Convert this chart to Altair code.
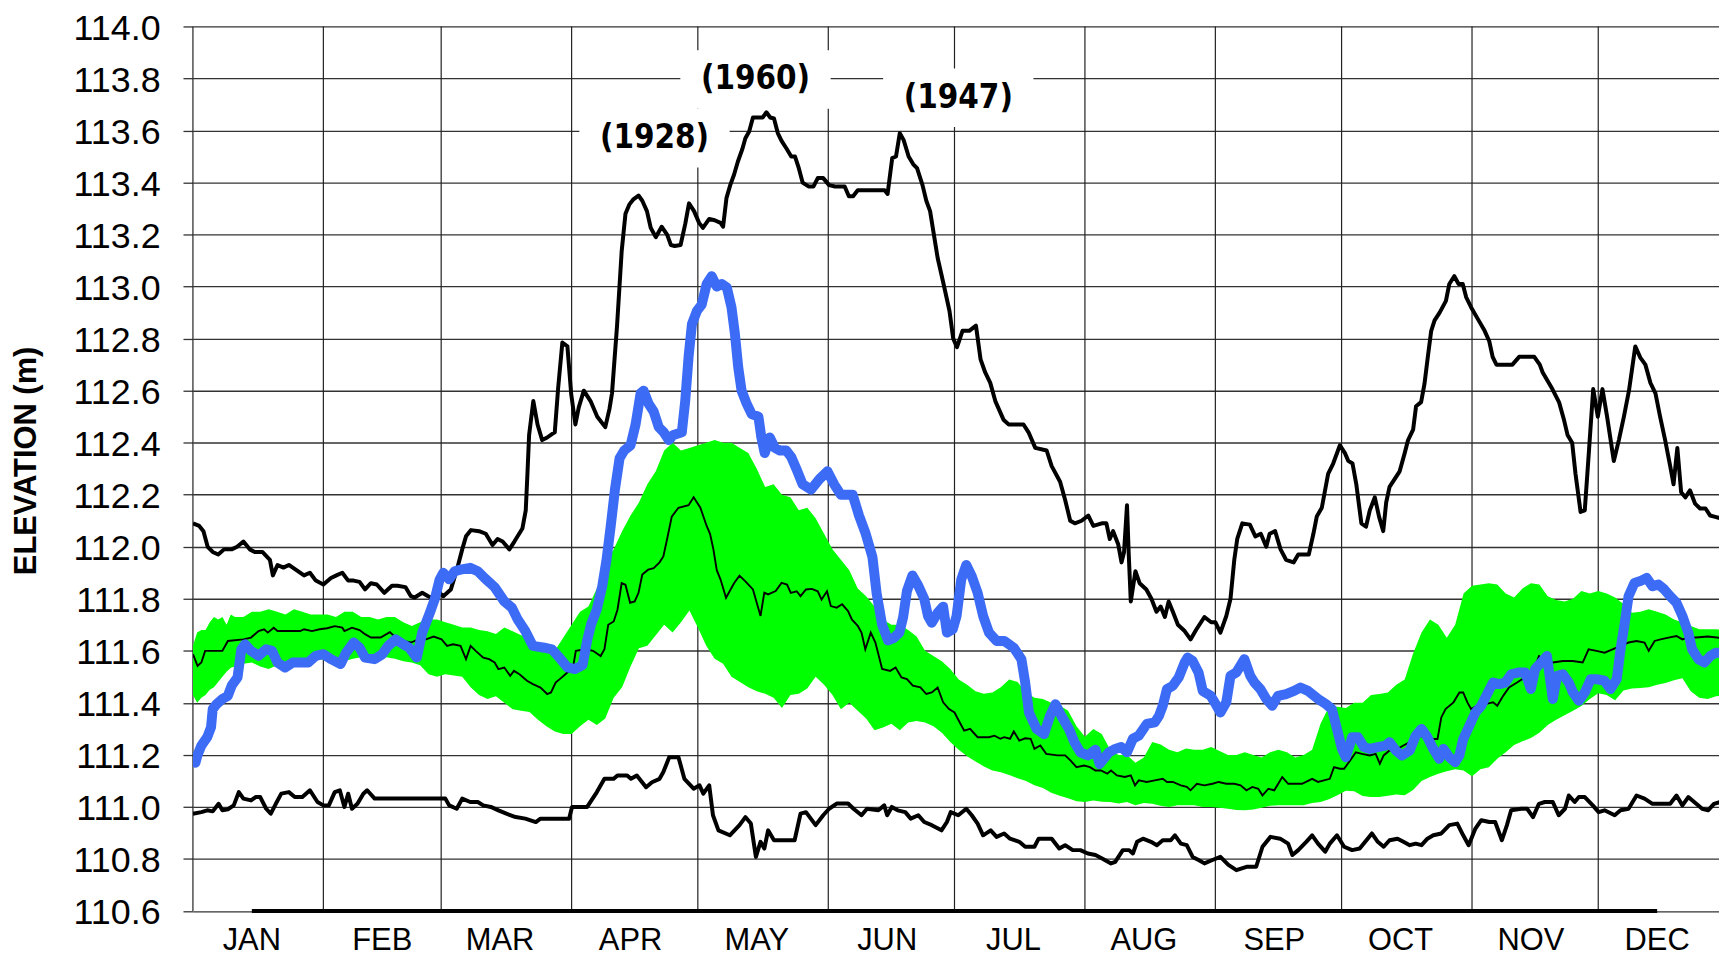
import altair as alt
import pandas as pd

# ---------------- data (day of year, elevation m) ----------------
MAX_LINE = [(0,112.09),(1.5,112.08),(2.5,112.06),(3.5,112.0),(4.7,111.98),(6,111.97),(7.4,111.99),(9.2,111.99),(10.5,112.0),(12,112.02),(13.5,111.99),(14.7,111.98),(16.5,111.98),(18.3,111.95),(19,111.89),(20.1,111.93),(21.5,111.92),(22.8,111.93),(24.6,111.91),(26.4,111.89),(27.8,111.9),(29.2,111.87),(31,111.855),(32.8,111.88),(34.1,111.89),(35.5,111.9),(36.9,111.87),(38.2,111.87),(39.6,111.865),(40.9,111.836),(42.3,111.86),(43.7,111.855),(45.5,111.823),(47.3,111.85),(48.6,111.85),(50.5,111.845),(51.8,111.81),(52.7,111.805),(54.5,111.823),(55.9,111.81),(57.2,111.8),(58.6,111.823),(59.5,111.81),(61.3,111.836),(62.7,111.91),(64,111.99),(64.9,112.04),(66.1,112.064),(68,112.06),(69.6,112.05),(71.2,112.007),(72.4,112.03),(73.6,112.02),(75.2,111.99),(76.4,112.02),(78.3,112.07),(79.1,112.14),(79.5,112.28),(79.9,112.43),(80.9,112.56),(81.9,112.47),(83,112.41),(84.2,112.42),(85.4,112.434),(86,112.44),(86.8,112.61),(87.8,112.785),(89,112.77),(89.9,112.587),(90.9,112.47),(91.7,112.536),(92.9,112.6),(94.5,112.56),(96.1,112.5),(98,112.46),(99,112.53),(99.6,112.59),(100.8,112.85),(101.9,113.136),(102.8,113.28),(103.7,113.315),(104.6,113.334),(105.9,113.35),(106.8,113.33),(107.9,113.29),(108.8,113.226),(110,113.19),(111.4,113.23),(112.7,113.2),(113.6,113.16),(114.5,113.156),(115.9,113.16),(117,113.24),(117.9,113.32),(119.1,113.29),(120.3,113.245),(121.2,113.226),(122.7,113.26),(124,113.255),(125.4,113.245),(126,113.23),(126.8,113.34),(127.7,113.39),(128.6,113.43),(129.5,113.48),(130.6,113.53),(131.3,113.57),(132.2,113.596),(133.1,113.65),(135.4,113.65),(136.3,113.67),(137.2,113.65),(138.1,113.646),(139,113.59),(139.9,113.56),(141.1,113.53),(142.2,113.5),(143.1,113.5),(144,113.455),(144.9,113.4),(146.3,113.385),(147.5,113.385),(148.5,113.417),(149.8,113.417),(151.2,113.39),(152.6,113.385),(154.9,113.385),(155.9,113.347),(156.9,113.347),(158,113.37),(164.4,113.37),(165.1,113.356),(166.2,113.494),(167.1,113.5),(168,113.59),(168.9,113.564),(170.1,113.5),(171.2,113.47),(172.1,113.455),(173.4,113.39),(174.3,113.33),(175.2,113.29),(176.1,113.2),(177,113.11),(178.4,113.01),(179.8,112.907),(180.7,112.8),(181.6,112.767),(182.9,112.83),(184.5,112.83),(186.1,112.85),(187.2,112.72),(188.3,112.67),(189.5,112.63),(190.7,112.56),(192.7,112.487),(193.9,112.47),(195.6,112.47),(197.4,112.47),(198.6,112.44),(200.2,112.38),(202.9,112.37),(204.1,112.31),(206.1,112.25),(207.3,112.18),(208.5,112.1),(209.6,112.09),(211.2,112.1),(212.8,112.12),(214,112.08),(216,112.09),(217.1,112.09),(217.9,112.03),(218.7,112.06),(219.9,112.01),(220.7,111.94),(221.3,111.98),(222,112.16),(222.4,111.976),(222.9,111.79),(224,111.906),(225,111.86),(226.6,111.836),(227.8,111.8),(229,111.75),(230,111.77),(231,111.73),(231.9,111.79),(232.9,111.75),(234.1,111.7),(235.7,111.676),(237.1,111.644),(238.4,111.68),(240.4,111.73),(242,111.71),(243,111.71),(244.2,111.67),(245.6,111.734),(246.6,111.8),(247.5,111.95),(248.2,112.03),(249.4,112.09),(251.2,112.085),(252.5,112.04),(253.8,112.05),(255.1,112.0),(255.9,112.05),(257.2,112.06),(258.5,111.99),(259.8,111.95),(261.6,111.94),(262.7,111.97),(265.2,111.97),(266.3,112.05),(267.1,112.116),(268.3,112.15),(269.8,112.28),(271,112.32),(272.6,112.39),(273.8,112.36),(274.6,112.33),(275.6,112.32),(276.5,112.24),(277.7,112.09),(278.8,112.077),(279.7,112.14),(280.9,112.19),(281.9,112.116),(282.9,112.06),(283.6,112.17),(284.4,112.23),(285.6,112.26),(286.8,112.29),(288,112.36),(288.8,112.41),(290,112.45),(290.7,112.54),(291.9,112.556),(292.7,112.626),(293.5,112.73),(294.3,112.83),(295.1,112.87),(296.3,112.9),(297.8,112.945),(298.6,113.01),(299.8,113.04),(300.8,113.01),(301.8,113.01),(302.6,112.96),(303.8,112.92),(305.4,112.875),(307,112.83),(308.1,112.79),(308.9,112.73),(309.8,112.7),(313.6,112.7),(315.2,112.73),(318.8,112.73),(320.1,112.7),(320.8,112.67),(323.1,112.606),(324.7,112.555),(325.9,112.485),(326.7,112.43),(327.8,112.4),(328.6,112.28),(329.8,112.134),(330.8,112.14),(331.8,112.37),(332.8,112.606),(333.9,112.5),(335,112.606),(336.1,112.5),(337.7,112.33),(338.9,112.41),(340.1,112.5),(341.3,112.6),(342.8,112.77),(344,112.727),(345.2,112.7),(346.4,112.63),(347.6,112.59),(348.7,112.5),(349.9,112.41),(351.1,112.31),(351.9,112.24),(352.8,112.38),(353.7,112.21),(354.7,112.19),(355.8,112.217),(357,112.166),(358.2,112.147),(359.5,112.147),(360.6,112.12),(361.8,112.115),(363,112.11)]

MIN_LINE = [(0,110.974),(2,110.98),(3.4,110.987),(4.7,110.983),(6.1,111.012),(7,110.987),(8.3,110.991),(9.7,111.006),(10.9,111.057),(12,111.032),(13.8,111.025),(14.9,111.038),(16,111.038),(17.4,110.993),(18.5,110.974),(19.7,111.012),(21,111.051),(22.8,111.057),(24.2,111.038),(26,111.038),(27.8,111.064),(29.6,111.019),(31,111.006),(32.3,111.006),(33.7,111.057),(34.9,111.064),(36,111.0),(36.9,111.051),(37.8,110.993),(39.1,111.012),(40.5,111.051),(41.4,111.064),(43.2,111.032),(60,111.032),(60.9,111.006),(62.7,110.993),(64,111.032),(65.9,111.019),(67.7,111.019),(69,111.006),(70.8,111.0),(72.6,110.987),(74.5,110.974),(76.7,110.961),(79,110.955),(81.5,110.942),(82.6,110.955),(89.4,110.955),(90.1,111.0),(93.7,111.0),(96,111.057),(97.8,111.108),(100,111.108),(100.9,111.121),(103.2,111.121),(104.1,111.108),(105.5,111.121),(107.7,111.076),(109.1,111.095),(110.9,111.108),(111.8,111.134),(113.2,111.191),(115.4,111.191),(116.8,111.108),(119,111.07),(120.4,111.083),(121.3,111.051),(122.7,111.083),(123.6,110.968),(124.9,110.91),(127.6,110.891),(129.9,110.93),(131.3,110.961),(132.6,110.936),(133.8,110.808),(134.9,110.866),(135.8,110.84),(136.7,110.91),(138.1,110.872),(143,110.872),(144.4,110.974),(145.7,110.98),(148,110.93),(149.8,110.968),(151.2,110.993),(153,111.013),(155.7,111.013),(157,110.993),(158.9,110.968),(160.2,110.993),(162.9,110.987),(164.3,111.006),(165,110.968),(166.1,111.0),(167.5,110.987),(169.3,110.98),(170.6,110.955),(172.4,110.968),(173.8,110.942),(175.6,110.93),(177.9,110.91),(179.2,110.942),(180.1,110.98),(181.9,110.968),(183.8,110.993),(185.1,110.968),(186.5,110.936),(187.8,110.891),(189.6,110.91),(191,110.885),(192.8,110.898),(194.2,110.878),(196.4,110.866),(197.8,110.847),(200,110.847),(201,110.878),(202.8,110.878),(204.1,110.878),(205.9,110.84),(207.3,110.853),(209.1,110.834),(210.9,110.834),(212.7,110.821),(214.5,110.815),(216.3,110.8),(218.2,110.783),(219.2,110.789),(221,110.834),(222.5,110.834),(223.4,110.821),(224.4,110.866),(225.8,110.878),(227.7,110.866),(229.1,110.853),(230.5,110.872),(232.4,110.872),(233.4,110.891),(234.8,110.859),(236.2,110.853),(237.6,110.808),(239,110.796),(240.4,110.783),(242.3,110.796),(244.2,110.808),(246.1,110.777),(248,110.757),(250.4,110.77),(252.7,110.77),(254.2,110.847),(256.1,110.885),(258.4,110.878),(260.3,110.859),(261.3,110.815),(262.7,110.834),(264.6,110.866),(266,110.891),(267.4,110.859),(269.1,110.828),(270.2,110.859),(271.9,110.891),(273.6,110.847),(275.5,110.834),(277.3,110.84),(279.2,110.878),(280.2,110.898),(281.6,110.866),(283,110.847),(284.4,110.872),(286.3,110.878),(287.7,110.866),(289.2,110.853),(290.6,110.859),(292,110.853),(293.4,110.878),(294.8,110.891),(296.7,110.898),(298.6,110.93),(300.5,110.936),(301.9,110.891),(303.2,110.853),(304.8,110.917),(306.2,110.949),(308.1,110.942),(309.5,110.942),(311.1,110.872),(312.3,110.93),(313.3,110.987),(315.7,110.993),(317.1,110.993),(318.5,110.961),(319.9,111.012),(321.3,111.019),(323.2,111.019),(324.6,110.968),(326.1,110.993),(327,111.044),(328.4,111.019),(329.4,111.038),(330.8,111.038),(332.7,111.006),(334.1,110.98),(335.5,110.987),(337.9,110.968),(339.3,110.987),(341.2,110.993),(343.1,111.044),(345,111.032),(346.9,111.012),(349.7,111.012),(351.1,111.012),(352.6,111.044),(354,111.006),(355.4,111.038),(357.3,111.012),(358.7,110.993),(360.1,110.987),(361.5,111.012),(363,111.019)]

MEDIAN_LINE = [(0,111.587),(1.1,111.542),(2,111.555),(2.9,111.6),(4.7,111.6),(7,111.6),(8.3,111.638),(12,111.644),(13.8,111.651),(15.6,111.676),(16.9,111.683),(17.8,111.67),(19.2,111.689),(20.1,111.676),(22.8,111.676),(25.5,111.676),(26.4,111.683),(28.3,111.676),(30.1,111.683),(31.9,111.687),(33.7,111.695),(35.5,111.689),(36,111.676),(37.8,111.689),(39.6,111.68),(40.9,111.664),(42.3,111.651),(44.6,111.651),(46.8,111.672),(48.2,111.651),(50,111.638),(51.8,111.632),(53.6,111.644),(55.4,111.644),(57.2,111.655),(59.1,111.644),(60.4,111.619),(61.8,111.625),(63.6,111.619),(64.9,111.568),(66,111.619),(67.2,111.6),(69,111.574),(70.4,111.568),(71.7,111.555),(72.6,111.53),(74,111.536),(75.4,111.504),(76.3,111.523),(77.6,111.51),(79.4,111.485),(80.8,111.472),(82.6,111.459),(84.2,111.434),(85.1,111.44),(86.2,111.478),(87.6,111.497),(89,111.517),(90.2,111.523),(91,111.6),(93.3,111.606),(95.1,111.6),(96.9,111.58),(97.8,111.606),(98.7,111.7),(100,111.713),(100.9,111.758),(101.9,111.86),(102.8,111.854),(103.9,111.785),(105,111.79),(105.9,111.823),(106.8,111.893),(108.2,111.912),(109.5,111.918),(110.9,111.94),(111.8,111.963),(112.7,112.03),(113.8,112.116),(115.4,112.15),(117.8,112.16),(119,112.19),(120.6,112.15),(122.1,112.08),(122.9,112.05),(123.7,111.99),(124.5,111.91),(125.4,111.874),(126.7,111.804),(128.6,111.86),(129.9,111.889),(131.3,111.867),(133.1,111.836),(134.9,111.734),(135.8,111.824),(136.7,111.817),(138.5,111.83),(139.9,111.861),(141.2,111.855),(142.1,111.823),(143.5,111.829),(144.4,111.81),(145.7,111.836),(147.1,111.838),(148.5,111.829),(149.4,111.797),(150.7,111.829),(151.6,111.772),(153,111.766),(154.3,111.779),(155.7,111.753),(156.6,111.721),(158,111.696),(158.9,111.67),(159.8,111.606),(161.1,111.67),(162.2,111.632),(163.8,111.53),(165.7,111.523),(167,111.536),(168.4,111.498),(169.7,111.491),(171.1,111.466),(172.9,111.46),(174.3,111.434),(175.6,111.44),(177,111.459),(178.3,111.402),(179.7,111.376),(181,111.363),(182,111.332),(183.3,111.293),(184.7,111.3),(186.5,111.268),(189.2,111.268),(190.5,111.274),(191.9,111.262),(192.8,111.268),(194.2,111.262),(195.1,111.29),(196.4,111.255),(197.8,111.264),(199.1,111.262),(200,111.223),(201.4,111.236),(202.8,111.204),(205.5,111.198),(207.3,111.198),(208.6,111.178),(210,111.153),(211.8,111.159),(213.2,111.153),(214.5,111.14),(215.8,111.14),(217.3,111.128),(218.2,111.14),(219.6,111.121),(221.5,111.115),(222.9,111.121),(223.9,111.083),(224.8,111.102),(226.7,111.096),(228.6,111.102),(230.5,111.108),(231.5,111.096),(232.9,111.096),(234.8,111.083),(236.2,111.077),(237.1,111.064),(238.6,111.089),(240.4,111.083),(242.3,111.089),(243.8,111.096),(245.6,111.089),(247.5,111.089),(249,111.083),(250.4,111.064),(251.8,111.077),(253.2,111.07),(254.2,111.044),(255.6,111.07),(257,111.064),(258.9,111.115),(260.3,111.089),(261.7,111.089),(263.6,111.089),(266,111.108),(267.4,111.096),(268.8,111.102),(270.2,111.108),(271.2,111.153),(272.6,111.147),(273.6,111.147),(275,111.178),(276.4,111.21),(277.8,111.204),(279.7,111.198),(281.1,111.204),(282.1,111.166),(283,111.198),(284.4,111.217),(286.3,111.223),(287.7,111.236),(289.2,111.249),(291.1,111.274),(292.9,111.268),(294.8,111.261),(295.8,111.261),(296.7,111.344),(297.7,111.376),(299.6,111.402),(301,111.44),(301.9,111.44),(302.9,111.402),(303.8,111.376),(305.2,111.389),(307.1,111.395),(309,111.402),(310,111.389),(311.4,111.427),(312.8,111.459),(314.7,111.478),(316.6,111.498),(318.5,111.517),(319.9,111.58),(321.3,111.568),(323.2,111.555),(325.6,111.561),(327.9,111.561),(330.3,111.555),(331.7,111.606),(333.6,111.6),(335.5,111.593),(337.4,111.606),(339.3,111.619),(341.2,111.632),(343.1,111.638),(345,111.632),(346,111.6),(347.4,111.638),(348.8,111.644),(350.7,111.651),(352.6,111.657),(354,111.644),(355.4,111.651),(357.3,111.651),(360,111.655),(363,111.65)]

# (day, upper edge, lower edge) of the green range
BAND = [(0,111.62,111.43),(1,111.67,111.40),(2,111.68,111.42),(3,111.68,111.43),(4,111.71,111.45),(5,111.73,111.46),(6,111.72,111.48),(7,111.73,111.50),(8,111.70,111.52),(9,111.74,111.535),(10,111.73,111.54),(12,111.73,111.55),(14,111.75,111.555),(16,111.75,111.54),(18,111.76,111.53),(20,111.75,111.545),(22,111.74,111.55),(24,111.76,111.56),(26,111.75,111.565),(28,111.74,111.57),(30,111.74,111.57),(32,111.74,111.56),(34,111.73,111.565),(36,111.75,111.56),(38,111.75,111.57),(40,111.73,111.575),(42,111.73,111.565),(44,111.72,111.565),(46,111.73,111.575),(48,111.73,111.57),(50,111.71,111.56),(52,111.695,111.555),(54,111.71,111.545),(56,111.72,111.51),(58,111.72,111.50),(60,111.71,111.51),(62,111.70,111.505),(64,111.69,111.50),(66,111.69,111.46),(68,111.68,111.43),(70,111.675,111.415),(72,111.665,111.425),(74,111.69,111.40),(76,111.675,111.375),(78,111.66,111.37),(80,111.65,111.365),(82,111.625,111.335),(84,111.60,111.31),(86,111.60,111.29),(88,111.65,111.28),(90,111.70,111.28),(92,111.75,111.31),(94,111.77,111.335),(96,111.84,111.315),(98,111.94,111.34),(100,111.99,111.42),(102,112.06,111.46),(104,112.12,111.54),(106,112.17,111.61),(108,112.24,111.62),(110,112.29,111.66),(112,112.37,111.70),(114,112.40,111.67),(116,112.37,111.71),(118,112.38,111.755),(120,112.39,111.69),(122,112.40,111.62),(124,112.41,111.57),(126,112.40,111.55),(128,112.40,111.50),(130,112.38,111.48),(132,112.36,111.46),(134,112.30,111.445),(136,112.23,111.435),(138,112.24,111.42),(140,112.20,111.38),(142,112.19,111.43),(144,112.14,111.435),(146,112.15,111.455),(148,112.11,111.50),(150,112.05,111.47),(152,111.99,111.43),(154,111.95,111.375),(156,111.91,111.40),(158,111.84,111.37),(160,111.81,111.34),(162,111.77,111.295),(164,111.72,111.305),(166,111.70,111.32),(168,111.70,111.295),(170,111.68,111.325),(172,111.655,111.33),(174,111.60,111.325),(176,111.58,111.31),(178,111.56,111.285),(180,111.53,111.25),(182,111.49,111.22),(184,111.47,111.195),(186,111.445,111.175),(188,111.435,111.155),(190,111.44,111.14),(192,111.46,111.133),(194,111.49,111.123),(196,111.48,111.11),(198,111.44,111.10),(200,111.42,111.083),(202,111.415,111.073),(204,111.40,111.055),(206,111.39,111.043),(208,111.37,111.033),(210,111.31,111.022),(212,111.27,111.019),(214,111.30,111.025),(216,111.28,111.02),(218,111.22,111.019),(220,111.20,111.013),(222,111.20,111.019),(224,111.17,111.006),(226,111.19,111.015),(228,111.25,111.012),(230,111.24,111.005),(232,111.22,111.0),(234,111.21,111.006),(236,111.225,111.006),(238,111.22,111.006),(240,111.22,111.0),(242,111.23,111.0),(244,111.215,110.997),(246,111.20,110.993),(248,111.20,110.988),(250,111.21,110.987),(252,111.20,110.99),(254,111.19,110.997),(256,111.21,111.005),(258,111.22,111.006),(260,111.21,111.006),(262,111.19,111.006),(264,111.20,111.006),(266,111.22,111.015),(268,111.32,111.019),(270,111.385,111.03),(272,111.385,111.045),(274,111.38,111.062),(276,111.40,111.06),(278,111.40,111.042),(280,111.43,111.038),(282,111.434,111.038),(284,111.44,111.043),(286,111.47,111.048),(288,111.49,111.045),(290,111.59,111.065),(292,111.67,111.10),(294,111.72,111.115),(296,111.70,111.128),(298,111.65,111.137),(300,111.70,111.145),(302,111.82,111.14),(304,111.85,111.118),(306,111.855,111.145),(308,111.86,111.153),(310,111.855,111.185),(312,111.82,111.21),(314,111.805,111.238),(316,111.84,111.252),(318,111.86,111.265),(320,111.855,111.285),(322,111.81,111.315),(324,111.795,111.335),(326,111.79,111.352),(328,111.80,111.37),(330,111.83,111.388),(332,111.82,111.415),(334,111.83,111.437),(336,111.82,111.43),(338,111.805,111.41),(340,111.78,111.448),(342,111.746,111.455),(344,111.75,111.457),(346,111.76,111.46),(348,111.75,111.47),(350,111.74,111.476),(352,111.72,111.487),(354,111.71,111.495),(356,111.695,111.445),(358,111.683,111.42),(360,111.683,111.415),(362,111.683,111.425),(364,111.68,111.43)]

BLUE_LINE = [(0.6,111.17),(1.1,111.2),(2,111.236),(3.4,111.268),(4.3,111.306),(4.7,111.376),(5.6,111.395),(7,111.415),(8.3,111.427),(9.2,111.466),(10.6,111.498),(11.5,111.606),(12.4,111.625),(13.8,111.6),(15.6,111.581),(17.4,111.606),(18.8,111.6),(20.1,111.555),(21.9,111.536),(23.7,111.555),(25.5,111.555),(27.4,111.555),(29.2,111.581),(31,111.587),(32.8,111.568),(35.1,111.549),(36.4,111.593),(38.2,111.632),(39.6,111.612),(40.9,111.574),(43.2,111.568),(45,111.587),(46.4,111.619),(48.2,111.644),(50,111.625),(51.4,111.612),(53.2,111.574),(54.5,111.67),(56.3,111.746),(57.5,111.8),(58.6,111.873),(59.5,111.9),(60.9,111.875),(62.2,111.906),(63.6,111.912),(65.9,111.919),(67.7,111.906),(69.5,111.877),(71.7,111.845),(74,111.79),(75.8,111.766),(77.2,111.72),(79,111.676),(80.8,111.619),(83.5,111.612),(85.3,111.606),(87.1,111.574),(89,111.536),(90.8,111.53),(92.6,111.545),(93.7,111.64),(94.6,111.7),(96,111.76),(97.3,111.85),(98.3,111.95),(99.3,112.08),(100.3,112.22),(101.4,112.34),(102.5,112.37),(104,112.39),(105.2,112.47),(106.4,112.59),(107.1,112.6),(108.3,112.55),(109.5,112.52),(110.7,112.46),(111.9,112.44),(113.1,112.41),(114.2,112.43),(116.2,112.44),(117,112.56),(117.8,112.73),(118.6,112.856),(119.8,112.907),(120.9,112.93),(122.1,113.01),(123.3,113.04),(124.5,113.0),(125.7,113.01),(126.9,112.996),(128,112.92),(128.8,112.82),(129.6,112.69),(130.4,112.6),(131.6,112.55),(132.8,112.51),(134.4,112.5),(135.1,112.42),(135.9,112.36),(137.1,112.42),(138.3,112.38),(139.5,112.37),(141,112.37),(142.2,112.345),(143.4,112.3),(144.9,112.24),(146.9,112.22),(148.9,112.26),(150.8,112.29),(152.4,112.24),(154,112.2),(156.8,112.2),(158.3,112.12),(159.9,112.05),(161.5,111.96),(162.5,111.82),(163.8,111.7),(165.2,111.64),(166.6,111.65),(167.9,111.67),(168.8,111.73),(169.7,111.83),(171,111.89),(172.4,111.85),(173.8,111.8),(174.7,111.734),(175.6,111.708),(177,111.746),(178.3,111.77),(179.2,111.67),(180.6,111.683),(181.5,111.734),(182.6,111.874),(183.8,111.93),(185.1,111.887),(186.5,111.823),(187.8,111.734),(189.2,111.67),(191,111.638),(192.8,111.638),(195.1,111.612),(196.9,111.568),(197.8,111.478),(198.7,111.363),(200.5,111.3),(202.3,111.28),(203.7,111.35),(205,111.395),(206.4,111.35),(208.2,111.3),(209.5,111.249),(210.9,111.21),(212.7,111.198),(214.5,111.22),(215.5,111.165),(217.7,111.21),(219.2,111.223),(220.6,111.23),(222,111.21),(223.4,111.262),(224.8,111.274),(226.7,111.319),(228.6,111.325),(229.6,111.35),(230.5,111.389),(231.5,111.453),(232.9,111.466),(234.3,111.498),(235.7,111.555),(236.4,111.574),(237.6,111.561),(239,111.517),(240,111.446),(241.9,111.427),(243.3,111.389),(244.2,111.363),(245.6,111.402),(246.6,111.504),(248,111.517),(249.9,111.568),(251.3,111.504),(252.3,111.478),(253.7,111.453),(255.1,111.415),(256.5,111.389),(257.9,111.427),(259.8,111.434),(261.7,111.446),(263.2,111.459),(265,111.446),(267.4,111.415),(269.3,111.395),(270.7,111.376),(271.9,111.3),(273.1,111.223),(274,111.191),(275.5,111.268),(276.9,111.268),(278.3,111.23),(279.7,111.223),(281.6,111.23),(283.5,111.236),(284.4,111.249),(285.9,111.217),(287.3,111.198),(289.2,111.217),(290.6,111.274),(292,111.3),(293.4,111.268),(294.8,111.223),(296.2,111.185),(297.2,111.223),(298.6,111.191),(300,111.172),(301,111.198),(301.9,111.261),(303.4,111.313),(304.8,111.363),(306.2,111.389),(307.6,111.434),(309,111.478),(310.5,111.472),(311.9,111.478),(313.3,111.51),(315.2,111.517),(316.6,111.517),(318,111.453),(319,111.53),(320.4,111.555),(321.8,111.58),(323.2,111.415),(324.2,111.504),(325.6,111.51),(327,111.478),(328,111.44),(329.4,111.408),(330.8,111.44),(332.2,111.491),(333.6,111.491),(335.5,111.485),(336.9,111.453),(338.4,111.491),(339.3,111.606),(340.3,111.708),(341.2,111.81),(342.6,111.861),(344,111.868),(345.5,111.88),(346.9,111.848),(348.3,111.855),(349.7,111.836),(351.1,111.81),(352.6,111.785),(354,111.734),(355.4,111.67),(356.3,111.606),(357.8,111.568),(359.2,111.555),(360.6,111.58),(362,111.593),(363,111.593)]

FLOOR_LINE = [(14, 110.6), (348, 110.6)]

MONTH_STARTS = [0, 31, 59, 90, 120, 151, 181, 212, 243, 273, 304, 334]
MONTH_LABEL_DAYS = [14, 45, 73, 104, 134, 165, 195, 226, 257, 287, 318, 348]
MONTH_NAMES = ["JAN", "FEB", "MAR", "APR", "MAY", "JUN", "JUL", "AUG", "SEP", "OCT", "NOV", "DEC"]

Y_TICKS = [110.6, 110.8, 111.0, 111.2, 111.4, 111.6, 111.8, 112.0, 112.2, 112.4,
           112.6, 112.8, 113.0, 113.2, 113.4, 113.6, 113.8, 114.0]

ANNOT_DAYS = [109.7, 133.7, 181.9]
ANNOT_VALS = [113.570, 113.796, 113.726]
ANNOT_TEXT = ["(1928)", "(1960)", "(1947)"]

# ---------------- tables ----------------
def line_df(pairs):
    return pd.DataFrame(pairs, columns=["day", "v"])

max_df = line_df(MAX_LINE)
min_df = line_df(MIN_LINE)
med_df = line_df(MEDIAN_LINE)
blue_df = line_df(BLUE_LINE)
floor_df = line_df(FLOOR_LINE)
band_df = pd.DataFrame(BAND, columns=["day", "v", "v2"])
months_df = pd.DataFrame({"day": MONTH_STARTS})
mlab_df = pd.DataFrame({"day": MONTH_LABEL_DAYS, "v": [110.6] * 12, "name": MONTH_NAMES})
ann_df = pd.DataFrame({"day": ANNOT_DAYS, "v": ANNOT_VALS, "txt": ANNOT_TEXT})

XS = alt.Scale(domain=[0, 362.7], nice=False, zero=False)
YS = alt.Scale(domain=[110.6, 114.0], nice=False, zero=False)

Y_AXIS = alt.Axis(
    values=Y_TICKS, format=".1f",
    labelFont="Liberation Sans", labelFontSize=36, labelColor="black",
    labelPadding=23, labelOffset=2,
    tickSize=10, tickColor="#333333", tickWidth=1.3,
    grid=True, gridColor="#333333", gridWidth=1.3,
    domain=False,
    title="ELEVATION (m)", titleFont="Liberation Sans", titleFontSize=31,
    titleFontWeight="bold", titleColor="black", titleAngle=270,
    titleAlign="center", titleBaseline="middle", titleX=-167, titleY=436,
)

def X():
    return alt.X("day:Q", scale=XS, axis=None)

def Y(field="v"):
    return alt.Y(f"{field}:Q", scale=YS, axis=Y_AXIS)

grid_v = alt.Chart(months_df).mark_rule(color="#222222", strokeWidth=1.2).encode(x=X())

box_shape = "M-1,-0.39L1,-0.39L1,0.39L-1,0.39Z"
boxes = alt.Chart(ann_df).mark_point(
    shape=box_shape, size=151 * 151, filled=True, fill="white", color="white",
    opacity=1, strokeWidth=0
).encode(x=X(), y=Y())

band = alt.Chart(band_df).mark_area(color="#00FF00", opacity=1, clip=True).encode(
    x=X(), y=Y(), y2="v2:Q"
)

median = alt.Chart(med_df).mark_line(color="black", strokeWidth=1.9, clip=True).encode(x=X(), y=Y())
mn = alt.Chart(min_df).mark_line(color="black", strokeWidth=4, clip=True, strokeJoin="round").encode(x=X(), y=Y())
mx = alt.Chart(max_df).mark_line(color="black", strokeWidth=4, clip=True, strokeJoin="round").encode(x=X(), y=Y())
floor = alt.Chart(floor_df).mark_line(color="black", strokeWidth=4).encode(x=X(), y=Y())
blue = alt.Chart(blue_df).mark_line(color="#3C6BF6", strokeWidth=10, clip=True,
                                    strokeJoin="round", strokeCap="round").encode(x=X(), y=Y())

ann = alt.Chart(ann_df).mark_text(
    font="DejaVu Sans Condensed, DejaVu Sans", fontWeight="bold", fontSize=33,
    color="black", align="center", baseline="middle"
).encode(x=X(), y=Y(), text="txt:N")

mlab = alt.Chart(mlab_df).mark_text(
    font="Liberation Sans", fontSize=31, color="black", align="center",
    baseline="alphabetic", dy=39
).encode(x=X(), y=Y(), text="name:N")

chart = alt.layer(
    grid_v, boxes, band, median, mn, mx, floor, blue, ann, mlab
).properties(
    width=1533.2, height=888.7,
    autosize=alt.AutoSizeParams(type="none"),
    padding={"left": 185.8, "top": 16.3, "right": 0, "bottom": 46},
    background="white",
).configure_view(strokeWidth=0)

chart.save("out.html", embed_options={"renderer": "svg", "actions": False})
